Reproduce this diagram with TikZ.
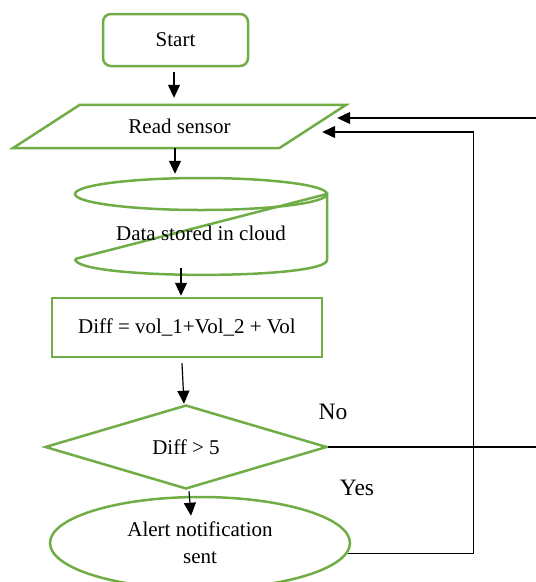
\documentclass[tikz,border=0pt]{standalone}
\usepackage{fontspec}
\setmainfont{Liberation Serif}
\usetikzlibrary{shapes.geometric,arrows.meta}
\definecolor{flowgreen}{HTML}{70AD47}

\begin{document}
\begin{tikzpicture}[x=1pt,y=-1pt,
  box/.style={draw=flowgreen, line width=2.5pt},
  arr/.style={-{Triangle[length=13pt,width=12pt]}, line width=1.2pt},
  every node/.style={font=\fontsize{21}{27}\selectfont, inner sep=0pt}]
\useasboundingbox (0,0) rectangle (536,582);
\node[box, rounded corners=8pt, minimum width=145pt, minimum height=52pt] (start) at (175.5,40) {Start};
\node[minimum width=266pt, minimum height=43pt] (read) at (179.5,126.5) {Read sensor};
\draw[box] ([xshift=33.5pt]read.north west) -- ([xshift=33.5pt]read.north east) -- ([xshift=-33.5pt]read.south east) -- ([xshift=-33.5pt]read.south west) -- cycle;
% stored data shape
\draw[box] (201,194) ellipse (126 and 16);
\draw[box] (75,259) -- (327,194) -- (327,260) .. controls (327,280) and (75,280) .. (75,259);
\node[minimum height=70pt] (cloud) at (201,233) {Data stored in cloud};
\node[box, minimum width=270pt, minimum height=59pt] (diff) at (187,327.5) {Diff = vol\_1+Vol\_2 + Vol};
\node[box, diamond, minimum width=282pt, minimum height=84pt] (dec) at (186,447) {Diff > 5};
\node[box, ellipse, minimum width=300pt, minimum height=92pt, align=center] (alert) at (200,543) {Alert notification\\sent};
\node[font=\fontsize{23.5}{28}\selectfont] (no) at (333,412) {No};
\node[font=\fontsize{23.5}{28}\selectfont] (yes) at (357,488) {Yes};
% main flow
\draw[arr] ([xshift=-1.5pt,yshift=-5pt]start.south) -- ([xshift=-5.5pt,yshift=7pt]read.north);
\draw[arr] ([xshift=-4.5pt]read.south) -- ([xshift=-26pt,yshift=24pt]cloud.north);
\draw[arr] ([xshift=-20pt]cloud.south) -- ([xshift=-6pt,yshift=1pt]diff.north);
\draw[arr] ([xshift=-5pt,yshift=-5pt]diff.south) -- ([xshift=-2pt]dec.north);
\draw[arr] ([xshift=3pt,yshift=-1pt]dec.south) -- ([xshift=-9pt,yshift=-20pt]alert.north);
% loops back
\draw[arr] (dec.east) -- ++(213,0) |- ([xshift=24.5pt,yshift=8.5pt]read.east);
\draw[arr] (alert.-4) -- ++(126,0) |- ([xshift=9.5pt,yshift=-5.5pt]read.east);
\end{tikzpicture}
\end{document}
